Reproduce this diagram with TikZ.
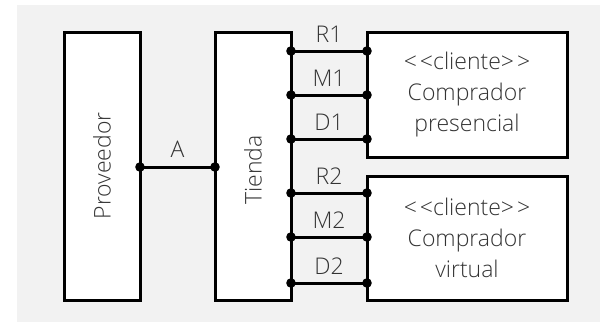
\documentclass[tikz,border=0pt]{standalone}
\usepackage{fontspec}
\setmainfont{Open Sans Light}
\begin{document}
\begin{tikzpicture}[x=1pt,y=-1pt,
  box/.style={draw=black,fill=white,line width=3pt,inner sep=0pt},
  wire/.style={line width=3pt},
  lbl/.style={font=\fontsize{23}{31}\selectfont,text=black!80,inner sep=0pt,align=center},
  dot/.style={fill=black}]
\useasboundingbox (0,0) rectangle (600,322);
\fill[black!5] (17,5) rectangle (600,322);
% boxes
\node[box,minimum width=76pt,minimum height=268pt] (prov) at (102,166) {};
\node[box,minimum width=76pt,minimum height=268pt] (tienda) at (253,166) {};
\node[box,minimum width=200pt,minimum height=125pt] (cli1) at (467,94.5) {};
\node[box,minimum width=200pt,minimum height=124pt] (cli2) at (467,238) {};
\node[lbl,rotate=90] (tprov) at (prov.center) {Proveedor};
\node[lbl,rotate=90] (ttienda) at (253,170) {Tienda};
\node[lbl] (tcli1) at (cli1.center) {<\kern3pt<cliente>\kern3pt>\\Comprador\\presencial};
\node[lbl] (tcli2) at (cli2.center) {<\kern3pt<cliente>\kern3pt>\\Comprador\\virtual};
% A connector
\coordinate (pA) at (140,167);
\coordinate (tA) at (215,167);
\draw[wire] (pA) -- node[lbl,above=8pt] (lA) {A} (tA);
\fill[dot] (pA) circle (4.8pt);
\fill[dot] (tA) circle (4.8pt);
% right connectors
\foreach \n/\y/\t in {1/51/R1,2/95/M1,3/139/D1,4/193/R2,5/237/M2,6/283/D2}{
  \coordinate (t\n) at (291,\y);
  \coordinate (c\n) at (367,\y);
  \draw[wire] (t\n) -- node[lbl,above=7pt] (l\n) {\t} (c\n);
  \fill[dot] (t\n) circle (4.8pt);
  \fill[dot] (c\n) circle (4.8pt);
}
\end{tikzpicture}
\end{document}
